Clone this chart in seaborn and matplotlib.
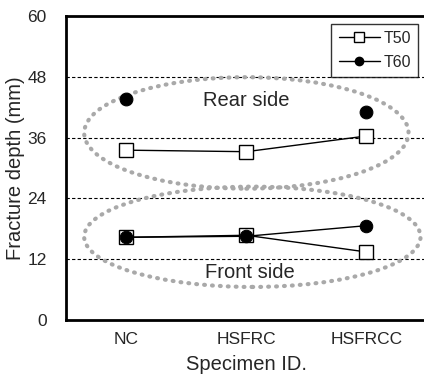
import matplotlib
matplotlib.use("Agg")
import matplotlib.pyplot as plt
from matplotlib.patches import Ellipse
from matplotlib.lines import Line2D
import seaborn as sns

specimens = ["NC", "HSFRC", "HSFRCC"]
t50_rear = [33.5, 33.2, 36.3]
t50_front = [16.3, 16.7, 13.4]
t60_rear_ids = ["NC", "HSFRCC"]
t60_rear = [43.6, 41.0]
t60_front = [16.3, 16.5, 18.6]
y_ticks = [0, 12, 24, 36, 48, 60]

sns.set_theme(style="white")
plt.rcParams["font.family"] = ["Liberation Sans", "DejaVu Sans"]

pos = {s: i + 0.5 for i, s in enumerate(specimens)}
x_all = [pos[s] for s in specimens]
x_t60r = [pos[s] for s in t60_rear_ids]

fig = plt.figure(figsize=(4.24, 3.79), dpi=100)
ax = fig.add_axes([0.156, 0.156, 0.85, 0.802])

# dashed grid lines
for yv in y_ticks[1:-1]:
    ax.axhline(yv, color="black", lw=0.8, ls=(0, (3, 2)), zorder=0)

# dotted ellipses around the two groups
for (cx, cy), w, h in [((1.5, 36.9), 2.7, 22.0), ((1.55, 16.4), 2.8, 19.8)]:
    e = Ellipse((cx, cy), w, h, fill=False, ec="#a9a9a9", lw=3,
                ls=(0, (0.2, 1.7)), zorder=1)
    e.set_capstyle("round")
    ax.add_patch(e)

sq = dict(marker="s", markersize=10, markerfacecolor="white",
          markeredgecolor="black", markeredgewidth=1.0)
ci = dict(marker="o", markersize=9, markerfacecolor="black",
          markeredgecolor="black")

sns.lineplot(x=x_all, y=t50_rear, ax=ax, color="black", lw=1.0, zorder=3, **sq)
sns.lineplot(x=x_all, y=t50_front, ax=ax, color="black", lw=1.0, zorder=3, **sq)
sns.lineplot(x=x_all, y=t60_front, ax=ax, color="black", lw=1.0, zorder=4, **ci)
sns.scatterplot(x=x_t60r, y=t60_rear, ax=ax, color="black", s=85,
                edgecolor="black", zorder=4)

ax.text(1.5, 43.4, "Rear side", ha="center", va="center", fontsize=14.5)
ax.text(1.53, 9.3, "Front side", ha="center", va="center", fontsize=14.5)

ax.set_xlim(0, 3)
ax.set_ylim(0, 60)
ax.set_yticks(y_ticks)
ax.set_xticks([1, 2])
ax.set_xticklabels([])
ax.tick_params(axis="x", direction="in", length=4, width=1, colors="black")
ax.tick_params(axis="y", length=0, pad=14, labelsize=12.5)
for x, s in zip(x_all, specimens):
    ax.text(x, -3.9, s, ha="center", va="center", fontsize=12.5,
            clip_on=False)

ax.set_xlabel("Specimen ID.", fontsize=14.5, labelpad=22)
ax.set_ylabel("Fracture depth (mm)", fontsize=14.5, labelpad=2)

for sp in ax.spines.values():
    sp.set_color("black")
    sp.set_linewidth(2)

handles = [
    Line2D([], [], color="black", lw=1, marker="s", markersize=7,
           markerfacecolor="white", markeredgecolor="black"),
    Line2D([], [], color="black", lw=1, marker="o", markersize=6,
           markerfacecolor="black"),
]
leg = ax.legend(handles, ["T50", "T60"], loc="upper right",
                bbox_to_anchor=(0.985, 0.985), fontsize=11.5, frameon=True,
                fancybox=False, handlelength=2.6, borderpad=0.45,
                handletextpad=0.2, labelspacing=0.55, borderaxespad=0.2)
leg.get_frame().set_edgecolor("black")
leg.get_frame().set_linewidth(1)

fig.savefig("out.png", dpi=100)
